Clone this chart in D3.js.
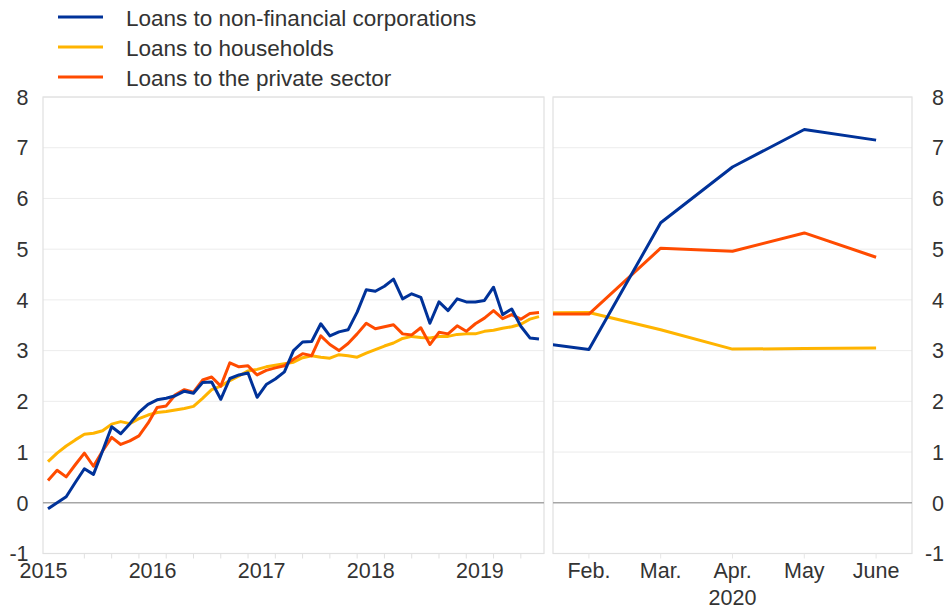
<!DOCTYPE html>
<html>
<head>
<script src="https://d3js.org/d3.v7.min.js"></script>
<style>
  body { margin: 0; background: #fff; }
  text { font-family: "Liberation Sans", Arial, sans-serif; fill: #333; }
</style>
</head>
<body>
<svg id="chart" width="948" height="609"></svg>
<script>
// monthly annual growth rates, mid-2015 to Jan 2020 (left panel)
const nfc = [-0.12, 0.00, 0.12, 0.40, 0.67, 0.56, 1.02, 1.50, 1.36, 1.56, 1.78, 1.94, 2.03, 2.06, 2.11,
  2.20, 2.16, 2.37, 2.38, 2.04, 2.45, 2.52, 2.56, 2.08, 2.33, 2.44, 2.58, 3.00, 3.17, 3.18,
  3.53, 3.29, 3.37, 3.41, 3.76, 4.20, 4.17, 4.27, 4.41, 4.02, 4.12, 4.05, 3.54, 3.96, 3.79,
  4.02, 3.96, 3.96, 3.99, 4.25, 3.71, 3.82, 3.48, 3.25, 3.23];
const households = [0.81, 0.98, 1.12, 1.24, 1.35, 1.37, 1.42, 1.55, 1.60, 1.56, 1.66, 1.73, 1.78, 1.80, 1.83,
  1.86, 1.90, 2.06, 2.23, 2.30, 2.41, 2.50, 2.60, 2.63, 2.68, 2.71, 2.74, 2.77, 2.86, 2.90,
  2.87, 2.85, 2.92, 2.90, 2.87, 2.95, 3.02, 3.09, 3.15, 3.24, 3.28, 3.26, 3.25, 3.28, 3.28,
  3.32, 3.33, 3.33, 3.38, 3.40, 3.44, 3.47, 3.52, 3.62, 3.67];
const privateSector = [0.44, 0.64, 0.51, 0.75, 0.98, 0.72, 1.02, 1.29, 1.15, 1.22, 1.32, 1.57, 1.88, 1.91, 2.13,
  2.23, 2.18, 2.42, 2.48, 2.30, 2.76, 2.68, 2.70, 2.52, 2.61, 2.66, 2.70, 2.83, 2.94, 2.90,
  3.29, 3.12, 3.00, 3.14, 3.33, 3.54, 3.43, 3.47, 3.51, 3.33, 3.31, 3.45, 3.12, 3.36, 3.33,
  3.49, 3.38, 3.53, 3.64, 3.79, 3.63, 3.71, 3.62, 3.73, 3.75];
const yearLabels = ['2015', '2016', '2017', '2018', '2019'];

// 2020 monthly (right panel), Jan sits just outside the panel
const months2020 = ['Jan.', 'Feb.', 'Mar.', 'Apr.', 'May', 'June'];
const nfc2020 = [3.21, 3.02, 5.52, 6.62, 7.36, 7.15];
const households2020 = [3.74, 3.75, 3.41, 3.03, 3.04, 3.05];
const private2020 = [3.72, 3.72, 5.02, 4.96, 5.32, 4.84];

const yTicks = [-1, 0, 1, 2, 3, 4, 5, 6, 7, 8];

const series = [
  {name: 'Loans to non-financial corporations', color: '#003299', left: nfc, right: nfc2020},
  {name: 'Loans to households', color: '#ffb400', left: households, right: households2020},
  {name: 'Loans to the private sector', color: '#ff4b00', left: privateSector, right: private2020}
];

const svg = d3.select('#chart');

const y = d3.scaleLinear().domain([-1, 8]).range([553.5, 97]);
const xL = d3.scaleLinear().domain([-0.55, 54.55]).range([43, 544]);
const xR = d3.scaleLinear().domain([0.5, 5.5]).range([553, 912]);

// clip paths for each panel
const defs = svg.append('defs');
defs.append('clipPath').attr('id', 'clipL').append('rect')
  .attr('x', xL.range()[0]).attr('y', y(8) - 5)
  .attr('width', xL.range()[1] - xL.range()[0]).attr('height', y(-1) - y(8) + 10);
defs.append('clipPath').attr('id', 'clipR').append('rect')
  .attr('x', xR.range()[0]).attr('y', y(8) - 5)
  .attr('width', xR.range()[1] - xR.range()[0]).attr('height', y(-1) - y(8) + 10);

function panel(x, clipId, key) {
  const g = svg.append('g');
  const [x0, x1] = x.range();
  // grid
  g.selectAll('line.grid').data(yTicks.filter(d => d !== 0 && d !== -1)).join('line')
    .attr('x1', x0).attr('x2', x1)
    .attr('y1', d => y(d)).attr('y2', d => y(d))
    .attr('stroke', '#ececec').attr('stroke-width', 1);
  // frame
  g.append('rect').attr('x', x0).attr('y', y(8))
    .attr('width', x1 - x0).attr('height', y(-1) - y(8))
    .attr('fill', 'none').attr('stroke', '#e0e0e0').attr('stroke-width', 1.2);
  // zero line
  g.append('line').attr('x1', x0).attr('x2', x1)
    .attr('y1', y(0)).attr('y2', y(0))
    .attr('stroke', '#a6a6a6').attr('stroke-width', 1.5);

  const line = d3.line().x((d, i) => x(i)).y(d => y(d));
  const lines = svg.append('g').attr('clip-path', `url(#${clipId})`);
  // draw households first, then private sector, then NFC on top
  [series[1], series[2], series[0]].forEach(s => {
    lines.append('path').datum(s[key])
      .attr('d', line)
      .attr('fill', 'none')
      .attr('stroke', s.color)
      .attr('stroke-width', 3)
      .attr('stroke-linejoin', 'round');
  });
}

panel(xL, 'clipL', 'left');
panel(xR, 'clipR', 'right');

// y axis labels, both sides
svg.append('g').selectAll('text').data(yTicks).join('text')
  .attr('x', 28.5).attr('y', d => y(d)).attr('dy', '0.36em')
  .attr('text-anchor', 'end').attr('font-size', 21.5)
  .text(d => d);
svg.append('g').selectAll('text').data(yTicks).join('text')
  .attr('x', 944).attr('y', d => y(d)).attr('dy', '0.36em')
  .attr('text-anchor', 'end').attr('font-size', 21.5)
  .text(d => d);

// left x axis: quarterly ticks and year labels
const quarterTicks = d3.range(4, 54, 3);
svg.append('g').selectAll('line').data(quarterTicks).join('line')
  .attr('x1', d => xL(d)).attr('x2', d => xL(d))
  .attr('y1', y(-1)).attr('y2', y(-1) + 5)
  .attr('stroke', '#e0e0e0').attr('stroke-width', 1);
svg.append('g').selectAll('text').data(yearLabels).join('text')
  .attr('x', (d, i) => xL(i * 12 - 0.5)).attr('y', 578)
  .attr('text-anchor', 'middle').attr('font-size', 21.5)
  .text(d => d);

// right x axis: months
svg.append('g').selectAll('line').data(d3.range(1, 6)).join('line')
  .attr('x1', d => xR(d)).attr('x2', d => xR(d))
  .attr('y1', y(-1)).attr('y2', y(-1) + 5)
  .attr('stroke', '#e6e6e6').attr('stroke-width', 1);
svg.append('g').selectAll('text').data(months2020.slice(1)).join('text')
  .attr('x', (d, i) => xR(i + 1)).attr('y', 578)
  .attr('text-anchor', 'middle').attr('font-size', 21.5)
  .text(d => d);
svg.append('text').attr('x', xR(3)).attr('y', 605)
  .attr('text-anchor', 'middle').attr('font-size', 21.5)
  .text('2020');

// legend
const leg = svg.append('g').selectAll('g').data(series).join('g')
  .attr('transform', (d, i) => `translate(0,${17 + i * 30})`);
leg.append('line').attr('x1', 58).attr('x2', 103).attr('y1', 0).attr('y2', 0)
  .attr('stroke', d => d.color).attr('stroke-width', 3);
leg.append('text').attr('x', 126).attr('y', 9).attr('font-size', 22.5)
  .text(d => d.name);
</script>
</body>
</html>
